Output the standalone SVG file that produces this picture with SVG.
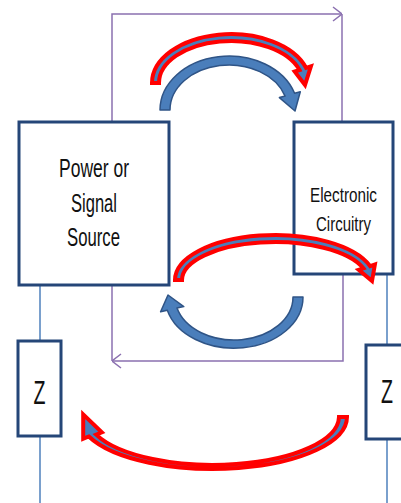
<svg xmlns="http://www.w3.org/2000/svg" width="401" height="503" viewBox="0 0 401 503">
<style>
.box{fill:#fff;stroke:#254678;stroke-width:3}
.txt{font-family:"Liberation Sans",Arial,sans-serif;fill:#111;text-anchor:middle}
.pl{fill:none;stroke:#8b70b0;stroke-width:1.5}
.bl{fill:none;stroke:#4f81bd;stroke-width:1.5}
.ba{fill:#4a7ebb;stroke:#2f5486;stroke-width:1.5;stroke-linejoin:round}
.ra{fill:#4a7ebb;stroke:#ff0000;stroke-width:4;stroke-linejoin:miter}
</style>
<defs>
<marker id="chev" viewBox="0 0 10 16" refX="10" refY="8" markerWidth="10" markerHeight="16" markerUnits="userSpaceOnUse" orient="auto">
<path d="M1,1 L10,8 L1,15" fill="none" stroke="#8b70b0" stroke-width="1.5"/>
</marker>
</defs>
<rect width="401" height="503" fill="#fff"/>
<g id="connectors">
<path class="pl" d="M112,122 V14 H342" marker-end="url(#chev)"/>
<path class="pl" d="M342,14 V122"/>
<path class="pl" d="M343,274 V361 H112" marker-end="url(#chev)"/>
<path class="pl" d="M112,285 V361"/>
<path class="bl" d="M40,285 V341 M40,436 V503"/>
<path class="bl" d="M387,274 V345 M387,439 V503"/>
</g>
<g id="source">
<rect class="box" x="19" y="122" width="150" height="163"/>
<text class="txt" font-size="25" x="94" y="177" textLength="70" lengthAdjust="spacingAndGlyphs">Power or</text>
<text class="txt" font-size="25" x="94" y="212" textLength="46" lengthAdjust="spacingAndGlyphs">Signal</text>
<text class="txt" font-size="25" x="93.5" y="246" textLength="53" lengthAdjust="spacingAndGlyphs">Source</text>
</g>
<g id="circuitry">
<rect class="box" x="294" y="122" width="99" height="152"/>
<text class="txt" font-size="20" x="343.5" y="202" textLength="67" lengthAdjust="spacingAndGlyphs">Electronic</text>
<text class="txt" font-size="20" x="343.5" y="231" textLength="55" lengthAdjust="spacingAndGlyphs">Circuitry</text>
</g>
<g id="z-left">
<rect class="box" x="18" y="341" width="43" height="95"/>
<text class="txt" font-size="33" x="39.5" y="404" textLength="12" lengthAdjust="spacingAndGlyphs">Z</text>
</g>
<g id="z-right">
<rect class="box" x="366" y="345" width="45" height="94"/>
<text class="txt" font-size="33" x="387" y="403" textLength="12" lengthAdjust="spacingAndGlyphs">Z</text>
</g>
<g id="arrows">
<path class="ra" d="M152,83 A79,49 0 0 1 306.1,67.9 L310.9,66.3 L305,85 L294.7,71.6 L299.5,70 A72,42 0 0 0 159,83 Z"/>
<path class="ba" d="M160,110 A69,54 0 0 1 294.6,93.3 L300.3,91.8 L295,111 L279.4,97.6 L285.1,96.1 A59,45 0 0 0 170,110 Z"/>
<path class="ra" d="M175,280 A100,45 0 0 1 370.1,266.1 L374.9,264.5 L372,281 L358.7,269.8 L363.4,268.3 A93,38 0 0 0 182,280 Z"/>
<path class="ba" d="M303,297 A69,51 0 0 1 167.3,310.2 L160.6,311.8 L168,295 L183.8,306.6 L177,308.1 A59,43 0 0 0 293,297 Z"/>
<path class="ra" d="M347,417 A134,52 0 0 1 88.8,436.5 L83.2,438.7 L83.2,414.4 L101.8,432.4 L96.2,434.6 A126,48.5 0 0 0 339,417 Z"/>
</g>
</svg>
